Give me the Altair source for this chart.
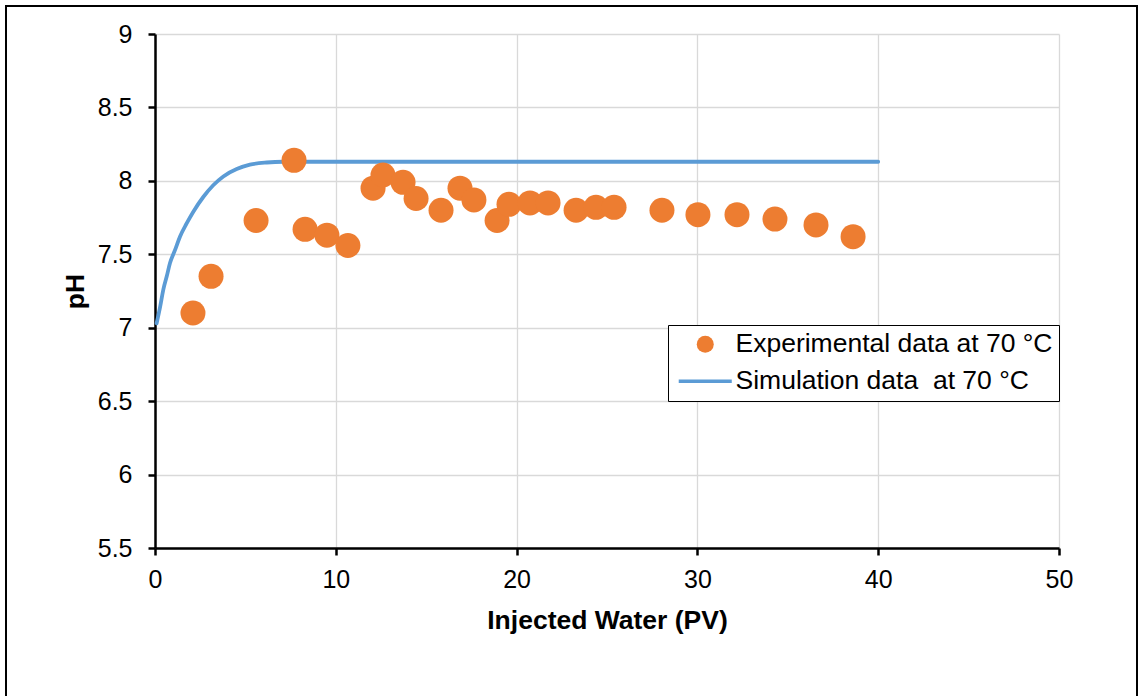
import altair as alt
import pandas as pd

# Experimental data (Injected water PV, pH)
exp_pv = [2.10, 3.10, 5.59, 7.69, 8.30, 9.51, 10.67, 12.06, 12.61, 13.72, 14.44,
          15.82, 16.87, 17.64, 18.92, 19.58, 20.74, 21.74, 23.29, 24.39, 25.39,
          28.04, 30.03, 32.19, 34.29, 36.56, 38.61]
exp_ph = [7.10, 7.35, 7.73, 8.14, 7.67, 7.63, 7.56, 7.95, 8.04, 7.99, 7.88,
          7.80, 7.95, 7.87, 7.73, 7.84, 7.85, 7.85, 7.80, 7.82, 7.82,
          7.80, 7.77, 7.77, 7.74, 7.70, 7.62]

# Simulation curve
sim_pv = [0.09, 0.28, 0.46, 0.65, 0.83, 1.11, 1.38, 1.75, 2.12, 2.67, 3.22,
          3.78, 4.52, 5.25, 6.18, 7.1, 8.5, 10.0, 20.0, 30.0, 40.0]
sim_ph = [7.03, 7.14, 7.26, 7.35, 7.44, 7.53, 7.62, 7.71, 7.79, 7.89, 7.97,
          8.03, 8.08, 8.11, 8.125, 8.13, 8.13, 8.13, 8.13, 8.13, 8.13]

series_names = ["Experimental data at 70 °C", "Simulation data\u00a0 at 70 °C"]
series_colors = ["#ED7D31", "#5B9BD5"]

x_ticks = [0, 10, 20, 30, 40, 50]
y_ticks = [5.5, 6, 6.5, 7, 7.5, 8, 8.5, 9]

exp_df = pd.DataFrame({"pv": exp_pv, "ph": exp_ph, "series": series_names[0]})
sim_df = pd.DataFrame({"pv": sim_pv, "ph": sim_ph})

FONT = "Liberation Sans"

x_enc = alt.X("pv:Q", scale=alt.Scale(domain=[0, 50], nice=False),
              axis=alt.Axis(values=x_ticks, title="Injected Water (PV)", format="d"))
y_enc = alt.Y("ph:Q", scale=alt.Scale(domain=[5.5, 9], nice=False, zero=False),
              axis=alt.Axis(values=y_ticks, title="pH", format=".1~f"))

line = alt.Chart(sim_df).mark_line(
    interpolate="monotone", strokeWidth=3.8, color=series_colors[1], strokeCap="round"
).encode(x=x_enc, y=y_enc)

legend = alt.Legend(title=None, orient="none", legendX=513, legendY=291)
points = alt.Chart(exp_df).mark_point(filled=True, size=625, opacity=1).encode(
    x=x_enc, y=y_enc,
    color=alt.Color("series:N",
                    scale=alt.Scale(domain=series_names, range=series_colors),
                    legend=legend),
    shape=alt.Shape("series:N",
                    scale=alt.Scale(domain=series_names,
                                    range=["circle", "M-3.12,-0.2H3.12V0.2H-3.12Z"]),
                    legend=legend),
)

border = alt.Chart(pd.DataFrame({"a": [0]})).mark_rect(
    fill="transparent", stroke="black", strokeWidth=2
).encode(x=alt.value(-149), x2=alt.value(982), y=alt.value(-28), y2=alt.value(720))

chart = alt.layer(border, line, points).properties(
    width=904, height=514,
    autosize=alt.AutoSizeParams(type="none"),
    padding={"left": 155, "top": 34, "right": 80, "bottom": 148},
    background="white",
).configure_view(stroke=None).configure_axis(
    labelFont=FONT, titleFont=FONT, labelFontSize=25, titleFontSize=26.5,
    labelColor="black", titleColor="black", titleFontWeight="bold",
    domainColor="black", domainWidth=2.5, tickColor="black", tickWidth=2.5, tickSize=7,
    gridColor="#d9d9d9", gridWidth=1.3, labelFlush=False,
).configure_axisX(
    labelPadding=12, titlePadding=15,
).configure_axisY(
    labelPadding=16, titlePadding=8,
).configure_legend(
    labelFont=FONT, labelFontSize=26.5, labelColor="black",
    symbolSize=289, symbolStrokeWidth=0, symbolOffset=18, labelOffset=17,
    rowPadding=10, strokeColor="black", fillColor="white", padding=6, labelLimit=500,
)

chart.save("out.html", embed_options={"renderer": "svg", "actions": False})
